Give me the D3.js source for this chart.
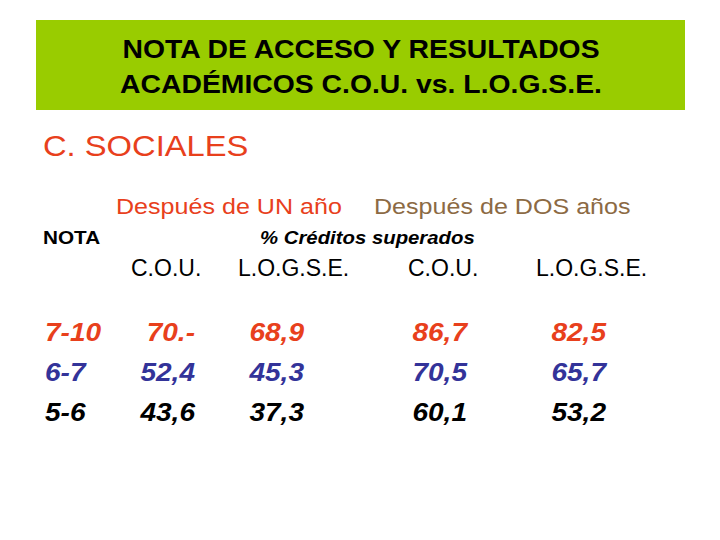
<!DOCTYPE html>
<html>
<head>
<meta charset="utf-8">
<script src="https://cdn.jsdelivr.net/npm/d3@7"></script>
<style>
  body { margin: 0; background: #fff; }
  svg { display: block; font-family: 'Liberation Sans', Arial, sans-serif; }
</style>
</head>
<body>
<svg></svg>
<script>
const TITLE_LINES = ['NOTA DE ACCESO Y RESULTADOS', 'ACADÉMICOS C.O.U. vs. L.O.G.S.E.']
const SUBJECT = 'C. SOCIALES'
const PERIODS = ['Después de UN año', 'Después de DOS años']
const COLUMNS = ['C.O.U.', 'L.O.G.S.E.', 'C.O.U.', 'L.O.G.S.E.']
const GRADES = ['7-10', '6-7', '5-6']
const COU_1 = ['70.-', '52,4', '43,6']
const LOGSE_1 = ['68,9', '45,3', '37,3']
const COU_2 = ['86,7', '70,5', '60,1']
const LOGSE_2 = ['82,5', '65,7', '53,2']

const ROW_COLORS = ['#e8401c', '#333399', '#000000']

const W = 720, H = 540
const svg = d3.select('svg').attr('width', W).attr('height', H)

// the slide is a bit wider than the font, so stretch text horizontally
function stretch(sel, factor) {
  sel.each(function() {
    const w = this.getComputedTextLength()
    d3.select(this).attr('textLength', w * factor).attr('lengthAdjust', 'spacingAndGlyphs')
  })
}

// title box
svg.append('rect')
  .attr('x', 36).attr('y', 20).attr('width', 649).attr('height', 90)
  .attr('fill', '#99cc00')

const title = svg.selectAll('text.title')
  .data(TITLE_LINES)
  .enter()
  .append('text')
  .attr('class', 'title')
  .attr('x', 361)
  .attr('y', (d, i) => 58 + i * 35)
  .attr('text-anchor', 'middle')
  .attr('font-size', 26)
  .attr('font-weight', 'bold')
  .attr('fill', '#000')
  .text(d => d)
stretch(title, 1.09)

const subject = svg.append('text')
  .attr('x', 43).attr('y', 156)
  .attr('font-size', 30)
  .attr('fill', '#e8401c')
  .text(SUBJECT)
stretch(subject, 1.09)

const periods = svg.selectAll('text.period')
  .data(PERIODS)
  .enter()
  .append('text')
  .attr('class', 'period')
  .attr('x', (d, i) => [116, 374][i])
  .attr('y', 214)
  .attr('font-size', 22)
  .attr('fill', (d, i) => ['#e8401c', '#8c6a44'][i])
  .text(d => d)
stretch(periods, 1.14)

const nota = svg.append('text')
  .attr('x', 43).attr('y', 244)
  .attr('font-size', 18).attr('font-weight', 'bold')
  .text('NOTA')
stretch(nota, 1.15)

const creditos = svg.append('text')
  .attr('x', 260).attr('y', 244)
  .attr('font-size', 18).attr('font-weight', 'bold').attr('font-style', 'italic')
  .text('% Créditos superados')
stretch(creditos, 1.13)

// columns
const colScale = d3.scaleOrdinal()
  .domain([0, 1, 2, 3])
  .range([131, 238, 408, 536])

svg.selectAll('text.colhead')
  .data(COLUMNS)
  .enter()
  .append('text')
  .attr('class', 'colhead')
  .attr('x', (d, i) => colScale(i))
  .attr('y', 276)
  .attr('font-size', 23)
  .text(d => d)

const rowScale = d3.scalePoint()
  .domain(GRADES)
  .range([341, 421])

const grades = svg.selectAll('text.grade')
  .data(GRADES)
  .enter()
  .append('text')
  .attr('class', 'grade')
  .attr('x', 45)
  .attr('y', d => rowScale(d))
  .attr('font-size', 25.5).attr('font-weight', 'bold').attr('font-style', 'italic')
  .attr('fill', (d, i) => ROW_COLORS[i])
  .text(d => d)
stretch(grades, 1.1)

const valueCols = [COU_1, LOGSE_1, COU_2, LOGSE_2]
const valueRight = [195, 304, 467, 606]

valueCols.forEach((col, c) => {
  const vals = svg.selectAll(`text.val${c}`)
    .data(col)
    .enter()
    .append('text')
    .attr('class', `val${c}`)
    .attr('x', valueRight[c])
    .attr('y', (d, i) => rowScale(GRADES[i]))
    .attr('text-anchor', 'end')
    .attr('font-size', 25.5).attr('font-weight', 'bold').attr('font-style', 'italic')
    .attr('fill', (d, i) => ROW_COLORS[i])
    .text(d => d)
  stretch(vals, 1.1)
})
</script>
</body>
</html>
